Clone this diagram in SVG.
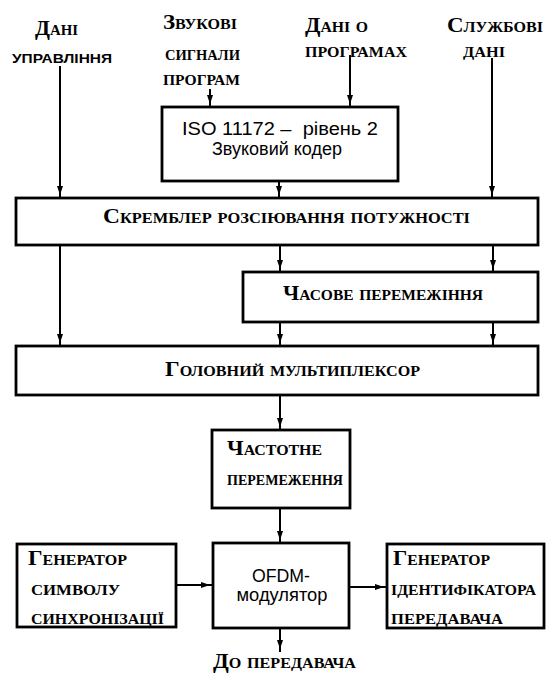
<svg xmlns="http://www.w3.org/2000/svg" width="547" height="675" viewBox="0 0 547 675">
  <style>
    .box { fill: #fff; stroke: #000; stroke-width: 2.8; }
    .wire { fill: none; stroke: #000; stroke-width: 2; }
    .lbl { font-family: "Liberation Serif", "DejaVu Serif", serif; font-weight: bold; font-size: 20px; font-variant: small-caps; fill: #000; }
    .big { font-size: 22px; }
    .sans { font-family: "Liberation Sans", Arial, sans-serif; font-size: 18px; fill: #000; text-anchor: middle; }
    .caps { font-family: "Liberation Sans", Arial, sans-serif; font-size: 13px; font-weight: bold; text-transform: uppercase; fill: #000; }
  </style>
  <defs>
    <marker id="arr" markerUnits="userSpaceOnUse" markerWidth="14" markerHeight="8" refX="12" refY="3" orient="auto">
      <path d="M0,0 L9,3 L0,6 z" fill="#000"/>
    </marker>
  </defs>
  <rect width="547" height="675" fill="#fff"/>

  <!-- input labels -->
  <g id="in-control">
    <text class="lbl big" x="35" y="35" textLength="43" lengthAdjust="spacingAndGlyphs">Дані</text>
    <text class="caps" x="12" y="63" textLength="100" lengthAdjust="spacingAndGlyphs">управління</text>
  </g>
  <g id="in-audio">
    <text class="lbl" x="163" y="29" textLength="74" lengthAdjust="spacingAndGlyphs">Звукові</text>
    <text class="lbl" x="165" y="60" textLength="75" lengthAdjust="spacingAndGlyphs">сигнали</text>
    <text class="lbl" x="163" y="85" textLength="77" lengthAdjust="spacingAndGlyphs">програм</text>
  </g>
  <g id="in-programme">
    <text class="lbl" x="305" y="32" textLength="63" lengthAdjust="spacingAndGlyphs">Дані о</text>
    <text class="lbl" x="305" y="57" textLength="102" lengthAdjust="spacingAndGlyphs">програмах</text>
  </g>
  <g id="in-service">
    <text class="lbl" x="447" y="32" textLength="96" lengthAdjust="spacingAndGlyphs">Службові</text>
    <text class="lbl" x="463" y="57" textLength="42" lengthAdjust="spacingAndGlyphs">дані</text>
  </g>

  <!-- processing blocks -->
  <g id="audio-coder">
    <rect class="box" x="162" y="107" width="236" height="74"/>
    <text class="sans" x="280" y="135" xml:space="preserve" textLength="196" lengthAdjust="spacingAndGlyphs">ISO 11172 –  рівень 2</text>
    <text class="sans" x="277" y="155">Звуковий кодер</text>
  </g>
  <g id="scrambler">
    <rect class="box" x="16" y="198" width="522" height="47"/>
    <text class="lbl" x="103" y="223" textLength="367" lengthAdjust="spacingAndGlyphs">Скремблер розсіювання потужності</text>
  </g>
  <g id="time-interleaver">
    <rect class="box" x="243" y="272" width="295" height="50"/>
    <text class="lbl" x="283" y="300" textLength="200" lengthAdjust="spacingAndGlyphs">Часове перемежіння</text>
  </g>
  <g id="main-mux">
    <rect class="box" x="16" y="346" width="522" height="49"/>
    <text class="lbl" x="165" y="376" textLength="255" lengthAdjust="spacingAndGlyphs">Головний мультиплексор</text>
  </g>
  <g id="freq-interleaver">
    <rect class="box" x="212" y="430" width="138" height="78"/>
    <text class="lbl" x="227" y="455" textLength="95" lengthAdjust="spacingAndGlyphs">Частотне</text>
    <text class="lbl" x="227" y="485" textLength="116" lengthAdjust="spacingAndGlyphs">перемеження</text>
  </g>
  <g id="sync-generator">
    <rect class="box" x="17" y="544" width="159" height="83"/>
    <text class="lbl" x="28" y="565" textLength="99" lengthAdjust="spacingAndGlyphs">Генератор</text>
    <text class="lbl" x="31" y="595" textLength="89" lengthAdjust="spacingAndGlyphs">символу</text>
    <text class="lbl" x="31" y="624" textLength="133" lengthAdjust="spacingAndGlyphs">синхронізації</text>
  </g>
  <g id="ofdm-modulator">
    <rect class="box" x="213" y="543" width="136" height="85"/>
    <text class="sans" x="281" y="582" textLength="58" lengthAdjust="spacingAndGlyphs">OFDM-</text>
    <text class="sans" x="282" y="601" textLength="91" lengthAdjust="spacingAndGlyphs">модулятор</text>
  </g>
  <g id="tii-generator">
    <rect class="box" x="387" y="544" width="157" height="84"/>
    <text class="lbl" x="393" y="565" textLength="97" lengthAdjust="spacingAndGlyphs">Генератор</text>
    <text class="lbl" x="391" y="595" textLength="145" lengthAdjust="spacingAndGlyphs">ідентифікатора</text>
    <text class="lbl" x="391" y="624" textLength="112" lengthAdjust="spacingAndGlyphs">передавача</text>
  </g>
  <g id="output">
    <text class="lbl" x="213" y="668" textLength="143" lengthAdjust="spacingAndGlyphs">До передавача</text>
  </g>

  <!-- signal paths -->
  <g id="connectors">
    <path class="wire" marker-end="url(#arr)" d="M60,66 V198"/>
    <path class="wire" marker-end="url(#arr)" d="M210,89 V107"/>
    <path class="wire" marker-end="url(#arr)" d="M350,55 V107"/>
    <path class="wire" marker-end="url(#arr)" d="M492,58 V198"/>
    <path class="wire" marker-end="url(#arr)" d="M279,181 V198"/>
    <path class="wire" marker-end="url(#arr)" d="M60,245 V346"/>
    <path class="wire" marker-end="url(#arr)" d="M280,245 V272"/>
    <path class="wire" marker-end="url(#arr)" d="M493,245 V272"/>
    <path class="wire" marker-end="url(#arr)" d="M280,322 V346"/>
    <path class="wire" marker-end="url(#arr)" d="M493,322 V346"/>
    <path class="wire" marker-end="url(#arr)" d="M280,395 V430"/>
    <path class="wire" marker-end="url(#arr)" d="M280,508 V543"/>
    <path class="wire" marker-end="url(#arr)" d="M176,585 H213"/>
    <path class="wire" marker-end="url(#arr)" d="M349,587 H387"/>
    <path class="wire" marker-end="url(#arr)" d="M280,628 V652"/>
  </g>
</svg>
